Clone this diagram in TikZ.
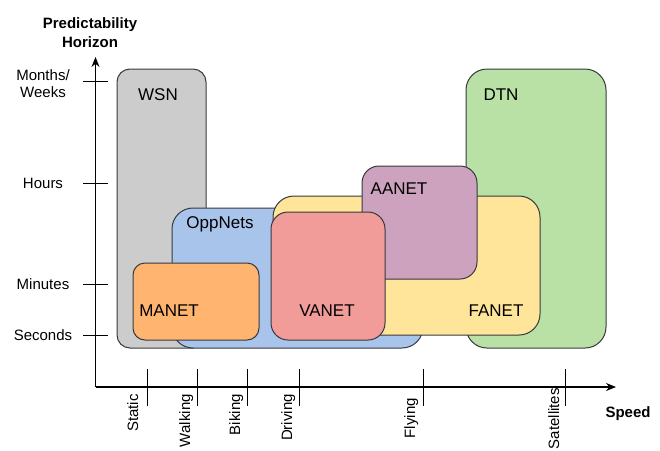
\documentclass[tikz,border=0pt]{standalone}
\usepackage{fontspec}
\setmainfont{Liberation Sans}
\usetikzlibrary{arrows.meta}
\definecolor{edge}{HTML}{36393D}
\definecolor{wsncol}{HTML}{CCCCCC}
\definecolor{oppcol}{HTML}{A9C4EB}
\definecolor{dtncol}{HTML}{B9E0A5}
\definecolor{fanetcol}{HTML}{FFE599}
\definecolor{aanetcol}{HTML}{CDA2BE}
\definecolor{vanetcol}{HTML}{F19C99}
\definecolor{manetcol}{HTML}{FFB570}
\begin{document}
\begin{tikzpicture}[x=1pt,y=-1pt,
  net/.style={draw=edge, line width=1pt, anchor=north west, inner sep=0pt, outer sep=0pt},
  netlabel/.style={font=\fontsize{17}{20}\selectfont, anchor=base, inner sep=0pt},
  axislabel/.style={font=\fontsize{15}{17}\selectfont, anchor=base, inner sep=0pt},
  titlelabel/.style={font=\fontsize{15}{17}\selectfont\bfseries, anchor=base, inner sep=0pt},
  speedlabel/.style={font=\fontsize{15}{17}\selectfont, inner sep=0pt, rotate=90, anchor=base east},
  axisline/.style={line width=1.3pt, -{Stealth[length=10pt,width=8pt]}},
  tickline/.style={line width=1pt}]
\useasboundingbox (0,0) rectangle (660,450);

% network regions, back to front
\node[net, fill=wsncol, rounded corners=13pt, minimum width=89pt, minimum height=279pt] (wsn) at (117,69) {};
\node[net, fill=oppcol, rounded corners=21pt, minimum width=251pt, minimum height=140pt] (opp) at (172,208) {};
\node[net, fill=dtncol, rounded corners=21pt, minimum width=140pt, minimum height=279pt] (dtn) at (466,69) {};
\node[net, fill=fanetcol, rounded corners=21pt, minimum width=267pt, minimum height=139pt] (fanet) at (273,196) {};
\node[net, fill=aanetcol, rounded corners=17pt, minimum width=115pt, minimum height=113pt] (aanet) at (362,166) {};
\node[net, fill=vanetcol, rounded corners=17pt, minimum width=114pt, minimum height=128pt] (vanet) at (271,212) {};
\node[net, fill=manetcol, rounded corners=12pt, minimum width=126pt, minimum height=77pt] (manet) at (133,263) {};

% region names
\node[netlabel] (wsnt) at (158,100) {WSN};
\node[netlabel] (oppt) at (220,228) {OppNets};
\node[netlabel] (dtnt) at (501,100) {DTN};
\node[netlabel] (aanett) at (399,194) {AANET};
\node[netlabel] (manett) at (169,316) {MANET};
\node[netlabel] (vanett) at (327,316) {VANET};
\node[netlabel] (fanett) at (496,316) {FANET};

% axes
\coordinate (origin) at (95.5,387);
\coordinate (ytip) at (95.5,57);
\coordinate (xtip) at (616,387);
\draw[axisline] (origin) -- (ytip);
\draw[axisline] (origin) -- (xtip);

% vertical axis: predictability horizon
\node[titlelabel] (ttl1) at (90,28) {Predictability};
\node[titlelabel] (ttl2) at (90,47) {Horizon};
\foreach \yy in {81,183,284,335} \draw[tickline] (83,\yy) -- (108,\yy);
\node[axislabel] (mon) at (43,80) {Months/};
\node[axislabel] (wee) at (43,97) {Weeks};
\node[axislabel] (hou) at (43,188) {Hours};
\node[axislabel] (min) at (43,289) {Minutes};
\node[axislabel] (sec) at (43,340.5) {Seconds};

% horizontal axis: speed
\foreach \xx in {147,197,247,299,423,565} \draw[tickline] (\xx,369) -- (\xx,406);
\node[speedlabel] (sstatic) at (138,394) {Static};
\node[speedlabel] (swalk) at (190,394) {Walking};
\node[speedlabel] (sbike) at (240,394) {Biking};
\node[speedlabel] (sdrive) at (292,394) {Driving};
\node[speedlabel] (sfly) at (415,398) {Flying};
\node[speedlabel] (ssat) at (559,388) {Satellites};
\node[titlelabel] (speed) at (628,417) {Speed};
\end{tikzpicture}
\end{document}
